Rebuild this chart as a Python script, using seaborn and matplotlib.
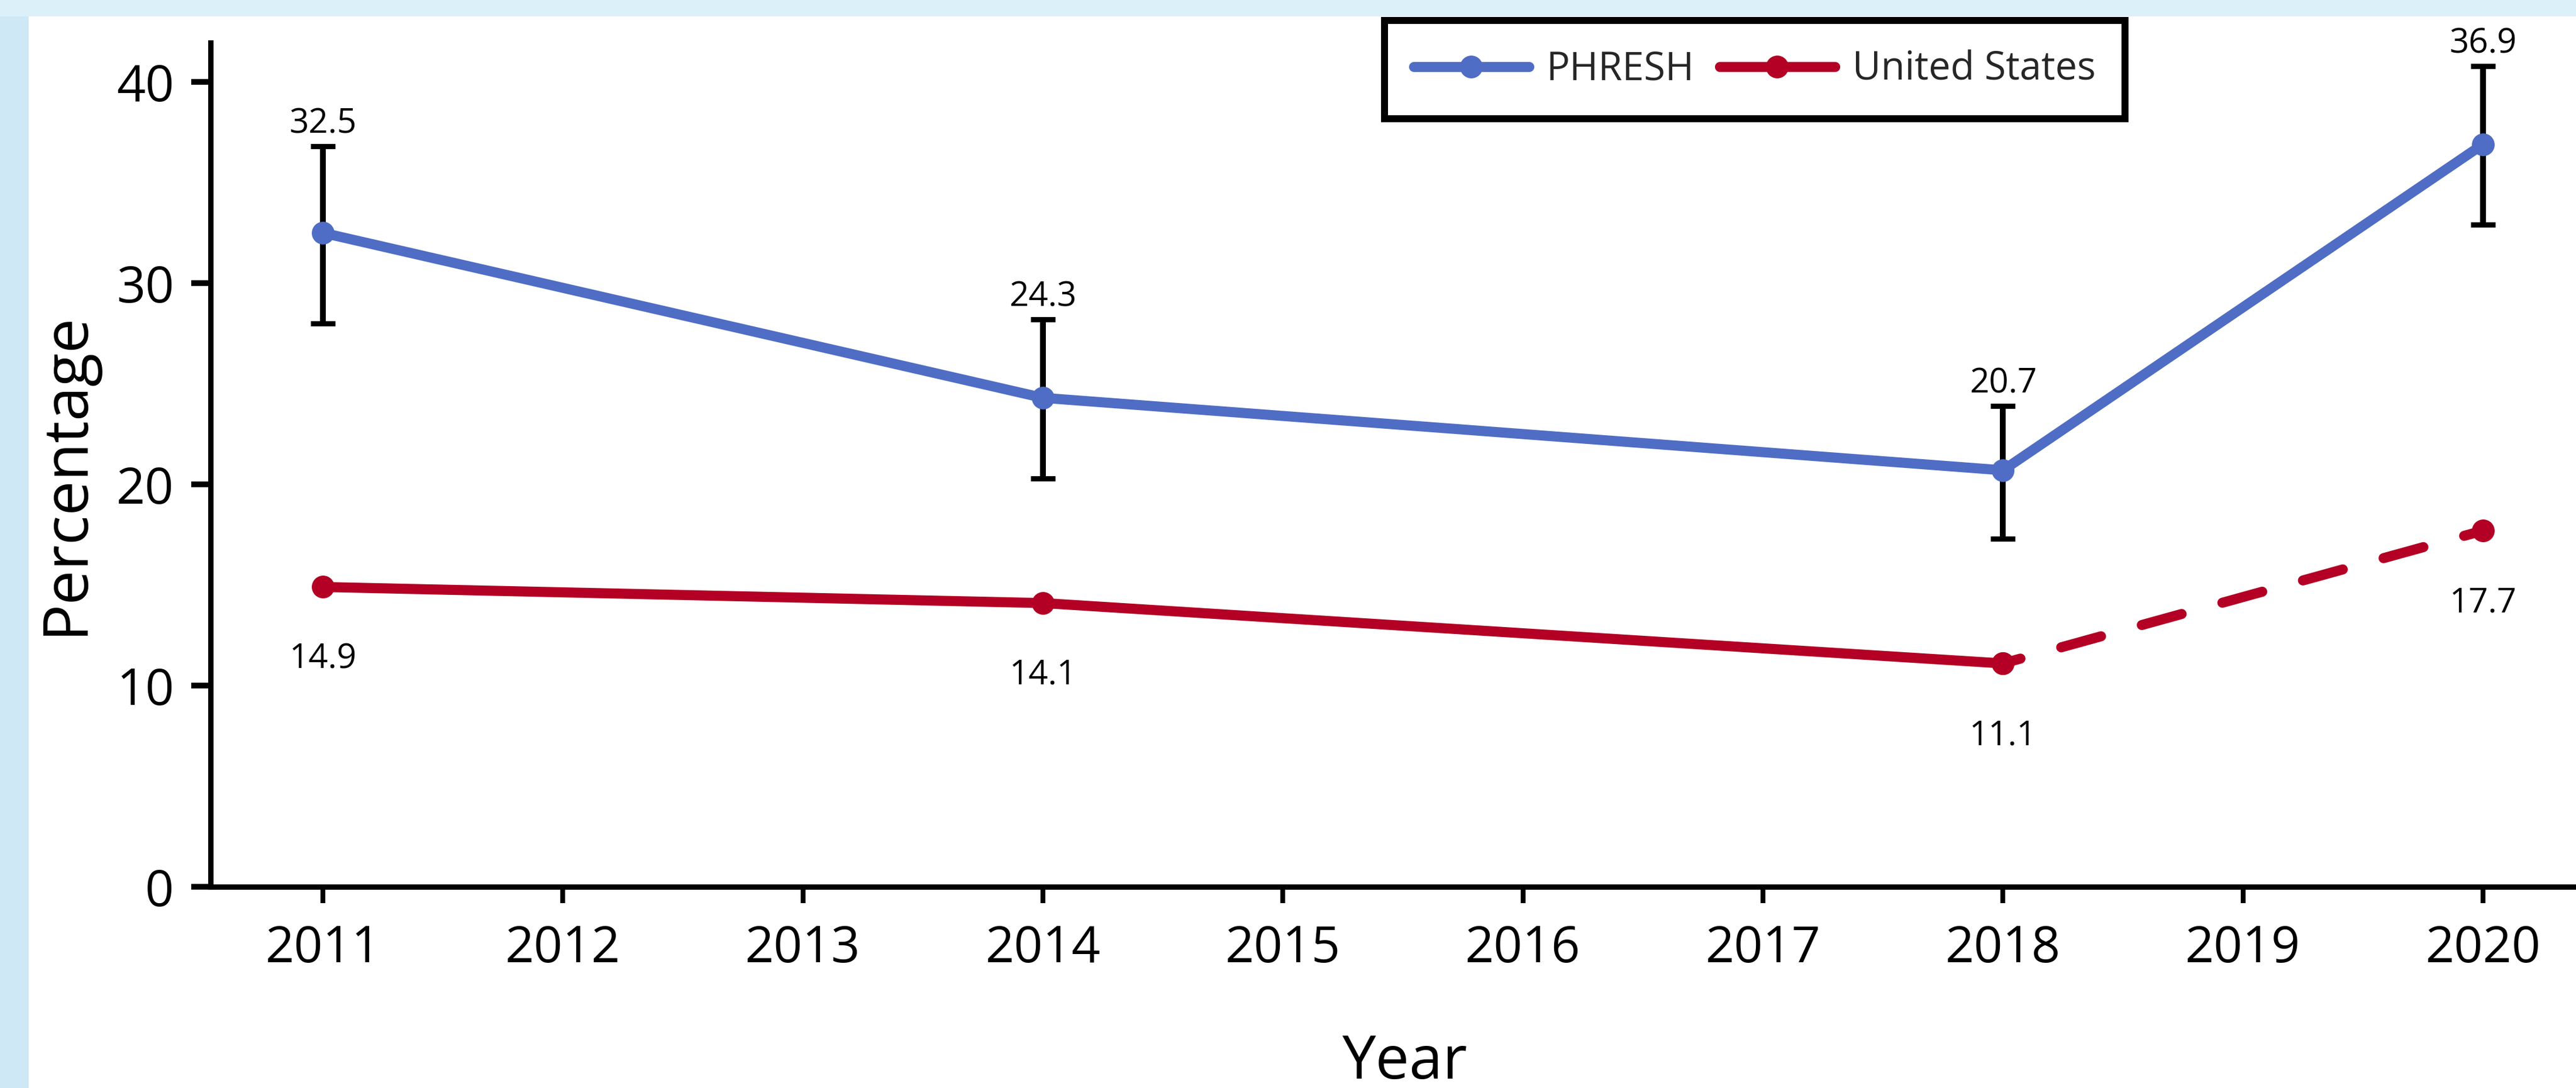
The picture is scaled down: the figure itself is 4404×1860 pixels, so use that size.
import matplotlib
matplotlib.use("Agg")
import matplotlib.pyplot as plt
from matplotlib.lines import Line2D
from matplotlib.patches import Rectangle
import pandas as pd
import seaborn as sns

# values
years = [2011, 2014, 2018, 2020]
phresh = [32.5, 24.3, 20.7, 36.9]
phresh_low = [28.0, 20.3, 17.3, 32.9]
phresh_high = [36.8, 28.2, 23.9, 40.8]
us = [14.9, 14.1, 11.1, 17.7]
year_ticks = list(range(2011, 2021))
pct_ticks = [0, 10, 20, 30, 40]
series_names = ["PHRESH", "United States"]

BLUE = "#4F6DC4"
RED = "#B30024"
LW = 6.2
MS = 14

sns.set_theme(style="ticks")
plt.rcParams["font.family"] = ["Open Sans", "DejaVu Sans"]

phresh_df = pd.DataFrame({"year": years, "pct": phresh})
us_solid = pd.DataFrame({"year": years[:3], "pct": us[:3]})
us_dashed = pd.DataFrame({"year": years[2:], "pct": us[2:]})

W, H = 4404, 1860
fig = plt.figure(figsize=(W / 200, H / 200), dpi=200, facecolor="#cfe8f6")
# white page with light blue strip on top / left (behind the axes)
fig.patches.append(Rectangle((49 / W, 0), 1, (H - 28) / H, transform=fig.transFigure,
                             facecolor="white", edgecolor="none", zorder=-2))
fig.patches.append(Rectangle((0, (H - 28) / H), 1, 28 / H, transform=fig.transFigure,
                             facecolor="#dcf0fa", edgecolor="none", zorder=-2))

ax = fig.add_axes([360 / W, 344 / H, 1 - 360 / W, 1443 / H])
ax.set_facecolor("white")

# error bars behind the markers
ax.errorbar(years, phresh,
            yerr=[[p - lo for p, lo in zip(phresh, phresh_low)],
                  [hi - p for p, hi in zip(phresh, phresh_high)]],
            fmt="none", ecolor="black", elinewidth=3.6, capsize=7.7, capthick=3.2, zorder=2)

sns.lineplot(data=phresh_df, x="year", y="pct", color=BLUE, linewidth=LW,
             marker="o", markersize=MS, markeredgewidth=0, ax=ax, zorder=4)
sns.lineplot(data=us_solid, x="year", y="pct", color=RED, linewidth=LW,
             marker="o", markersize=MS, markeredgewidth=0, ax=ax, zorder=4)
sns.lineplot(data=us_dashed, x="year", y="pct", color=RED, linewidth=LW,
             linestyle=(2.3, (4.1, 4.2)), dash_capstyle="round",
             marker="o", markersize=MS, markeredgewidth=0, ax=ax, zorder=4)

for x, v, hi in zip(years, phresh, phresh_high):
    ax.annotate(f"{v}", (x, hi), xytext=(0, 8), textcoords="offset points",
                ha="center", va="baseline", fontsize=21, color="black")
for x, v in zip(years, us):
    ax.annotate(f"{v}", (x, v), xytext=(0, -50), textcoords="offset points",
                ha="center", va="baseline", fontsize=21, color="black")

ax.set_xlim(2011 - 192 / 410.3, 2020 + 159 / 410.3)
ax.set_ylim(0, 41.95)
ax.set_xticks(year_ticks)
ax.set_yticks(pct_ticks)
ax.tick_params(axis="x", length=10, width=3, pad=13, labelsize=31, colors="black")
ax.tick_params(axis="y", length=12, width=3.5, pad=10.5, labelsize=31, colors="black")
sns.despine(ax=ax)
for side in ["left", "bottom"]:
    ax.spines[side].set_linewidth(3.3)
    ax.spines[side].set_color("black")

ax.set_xlabel("Year", fontsize=37, color="black")
ax.xaxis.label.set_va("baseline")
ax.xaxis.set_label_coords(0.505, -0.227)
ax.set_ylabel("Percentage", fontsize=38, color="black")
ax.yaxis.set_label_coords(-0.048, 0.49)

handles = [Line2D([], [], color=BLUE, lw=LW, marker="o", markersize=MS, markeredgewidth=0),
           Line2D([], [], color=RED, lw=LW, marker="o", markersize=MS, markeredgewidth=0)]
leg = ax.legend(handles, series_names, ncol=2, loc="center", bbox_to_anchor=(0.6528, 0.968),
                fontsize=24, frameon=True, fancybox=False, edgecolor="black", framealpha=1,
                borderpad=0.75, handlelength=2.95, handletextpad=0.45, columnspacing=0.65)
leg.get_frame().set_linewidth(4.3)

fig.savefig("out.png", dpi=200, facecolor=fig.get_facecolor())
